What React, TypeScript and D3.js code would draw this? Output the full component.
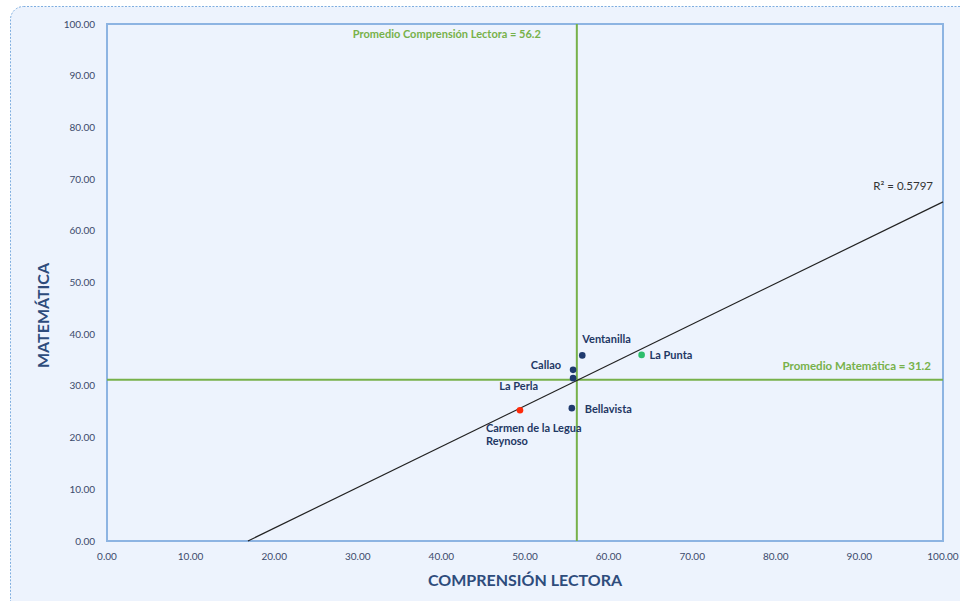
import React from "react";
import * as d3 from "d3";

const names = ["Ventanilla", "La Punta", "Callao", "La Perla", "Bellavista", "Carmen de la Legua Reynoso"];
const lectura = [56.85, 63.95, 55.75, 55.75, 55.6, 49.4];
const matematica = [35.9, 36.0, 33.1, 31.5, 25.7, 25.3];
const colors = ["#1F3A6E", "#2DBE6C", "#1F3A6E", "#1F3A6E", "#1F3A6E", "#FF2A0A"];
const xTicks = [0, 10, 20, 30, 40, 50, 60, 70, 80, 90, 100];
const yTicks = [0, 10, 20, 30, 40, 50, 60, 70, 80, 90, 100];
const avgLectura = 56.2;
const avgMate = 31.2;
const trendSlope = 0.789;
const trendIntercept = -13.3;
const r2 = 0.5797;

const W = 960, H = 601;
const L = 107, R = 943, T = 24, B = 541;
const font = "Lato, 'Open Sans', sans-serif";

// label placement offsets (px) relative to the point
const labelOffsets: [number, number, string][] = [
  [0, -12, "start"],
  [8, 4, "start"],
  [-12, -1, "end"],
  [-35, 12, "end"],
  [13, 5, "start"],
  [-34, 22, "start"],
];

export default function App() {
  const x = d3.scaleLinear().domain([0, 100]).range([L, R]);
  const y = d3.scaleLinear().domain([0, 100]).range([B, T]);
  const x0 = -trendIntercept / trendSlope;
  const trend = d3.line<number>()(
    [[x(x0), y(0)], [x(100), y(trendSlope * 100 + trendIntercept)]] as any
  );

  return (
    <svg width={W} height={H} style={{ position: "absolute", left: 0, top: 0 }} fontFamily={font}>
      <rect x={0} y={0} width={W} height={H} fill="#ffffff" />
      <rect x={10.5} y={6.5} width={W + 20} height={H + 20} rx={13} fill="#EDF3FD" stroke="#7FAEE0" strokeDasharray="2,1.5" strokeWidth={1} />
      <rect x={L} y={T} width={R - L} height={B - T} fill="#EDF3FD" stroke="#8DB4E2" strokeWidth={2} />

      {yTicks.map((t) => (
        <text key={"y" + t} x={95} y={y(t) + 3.5} textAnchor="end" fontSize={10} fill="#3B4A6B">
          {t.toFixed(2)}
        </text>
      ))}
      {xTicks.map((t) => (
        <text key={"x" + t} x={x(t)} y={560} textAnchor="middle" fontSize={10} fill="#3B4A6B">
          {t.toFixed(2)}
        </text>
      ))}

      <line x1={x(avgLectura)} x2={x(avgLectura)} y1={T} y2={B} stroke="#77B14A" strokeWidth={2} />
      <line x1={L} x2={R} y1={y(avgMate)} y2={y(avgMate)} stroke="#77B14A" strokeWidth={2} />
      <text x={x(avgLectura) - 36} y={38} textAnchor="end" fontSize={11} fontWeight="bold" fill="#77B14A">
        Promedio Comprensión Lectora = {avgLectura}
      </text>
      <text x={931} y={370} textAnchor="end" fontSize={11.5} fontWeight="bold" fill="#77B14A">
        Promedio Matemática = {avgMate}
      </text>

      <path d={trend || ""} stroke="#222222" strokeWidth={1.2} fill="none" />
      <text x={933} y={190} textAnchor="end" fontSize={11.5} fill="#333333">
        R² = {r2}
      </text>

      {names.map((n, i) => (
        <circle key={"p" + i} cx={x(lectura[i])} cy={y(matematica[i])} r={3.3} fill={colors[i]} />
      ))}
      {names.map((n, i) => {
        const [dx, dy, anchor] = labelOffsets[i];
        const px = x(lectura[i]) + dx;
        const py = y(matematica[i]) + dy;
        if (n === "Carmen de la Legua Reynoso") {
          return (
            <text key={"l" + i} x={px} y={py} textAnchor={anchor} fontSize={11} fontWeight="bold" fill="#1F3864">
              <tspan x={px}>Carmen de la Legua</tspan>
              <tspan x={px} dy={13}>Reynoso</tspan>
            </text>
          );
        }
        return (
          <text key={"l" + i} x={px} y={py} textAnchor={anchor} fontSize={11} fontWeight="bold" fill="#1F3864">
            {n}
          </text>
        );
      })}

      <text x={525} y={586} textAnchor="middle" fontSize={16} fontWeight="bold" fill="#2E4C7C">
        COMPRENSIÓN LECTORA
      </text>
      <text transform={`translate(49,${(T + B) / 2 + 33}) rotate(-90)`} textAnchor="middle" fontSize={16} fontWeight="bold" fill="#2E4C7C">
        MATEMÁTICA
      </text>
    </svg>
  );
}
